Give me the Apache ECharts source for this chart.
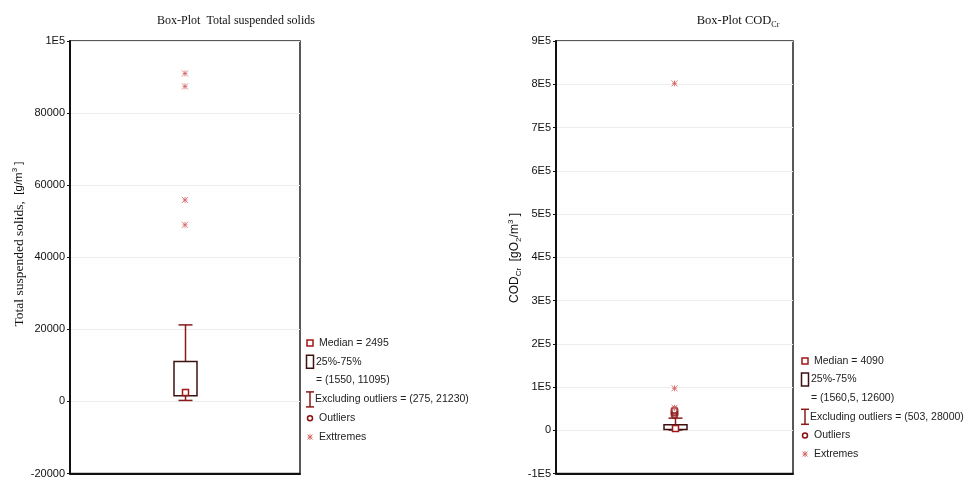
<!DOCTYPE html>
<html><head><meta charset="utf-8">
<script src="https://cdn.jsdelivr.net/npm/echarts/dist/echarts.min.js"></script>
<style>html,body{margin:0;padding:0;background:#fff}#c{width:967px;height:479px}</style>
</head><body><div id="c"></div>
<script>
// ---- data ----
const categories = ['TSS', 'COD'];
// [min (excluding outliers), q1, median, q3, max (excluding outliers)]
const tssStats = [275, 1550, 2495, 11095, 21230];
const tssOutliers = [];
const tssExtremes = [91000, 87400, 55900, 49000];
const codStats = [503, 1560.5, 4090, 12600, 28000];
const codOutliers = [36000, 41000, 46000];
const codExtremes = [52000, 97000, 802000];
const tssTicks = [-20000, 0, 20000, 40000, 60000, 80000, 100000];
const tssTickLabels = ['-20000', '0', '20000', '40000', '60000', '80000', '1E5'];
const codTicks = [-100000, 0, 100000, 200000, 300000, 400000, 500000, 600000, 700000, 800000, 900000];
const codTickLabels = ['-1E5', '0', '1E5', '2E5', '3E5', '4E5', '5E5', '6E5', '7E5', '8E5', '9E5'];
const tssLegendExtremesLabel = 'Exttremes';
const codLegendExtremesLabel = 'Extremes';

// ---- styles ----
const WHISKER = '#8b1a1a', BOX = '#3d1212', MED = '#a01818', EXT = '#d36060', OUT = '#8b1010';
const SANS = 'Liberation Sans, Arial, sans-serif';
const SERIF = 'Liberation Serif, Times New Roman, serif';
const STAR = 'path://M0,0L10,10M10,0L0,10M5,0L5,10M1,5L9,5';

function fmt(v) { return String(v).replace('.', ','); }

function boxRender(params, api) {
  const x = api.value(0);
  const pMin = api.coord([x, api.value(1)]);
  const pQ1 = api.coord([x, api.value(2)]);
  const pMed = api.coord([x, api.value(3)]);
  const pQ3 = api.coord([x, api.value(4)]);
  const pMax = api.coord([x, api.value(5)]);
  const cx = Math.round(pMed[0]) + 0.5;
  const bw = 23, cw = 14, ms = 6;
  const ls = { stroke: WHISKER, lineWidth: 1.5 };
  return {
    type: 'group',
    children: [
      { type: 'line', shape: { x1: cx, y1: pQ3[1], x2: cx, y2: pMax[1] }, style: ls },
      { type: 'line', shape: { x1: cx, y1: pQ1[1], x2: cx, y2: pMin[1] }, style: ls },
      { type: 'line', shape: { x1: cx - cw / 2, y1: pMax[1], x2: cx + cw / 2, y2: pMax[1] }, style: ls },
      { type: 'line', shape: { x1: cx - cw / 2, y1: pMin[1], x2: cx + cw / 2, y2: pMin[1] }, style: ls },
      { type: 'rect', shape: { x: cx - bw / 2, y: pQ3[1], width: bw, height: pQ1[1] - pQ3[1] },
        style: { fill: 'rgba(255,255,255,0)', stroke: BOX, lineWidth: 1.5 } },
      { type: 'rect', shape: { x: cx - ms / 2, y: pMed[1] - ms / 2, width: ms, height: ms },
        style: { fill: '#fff', stroke: MED, lineWidth: 1.5 } }
    ]
  };
}

function yAxisCfg(gi, min, max, interval, ticks, labels) {
  return {
    type: 'value', gridIndex: gi, min: min, max: max, interval: interval,
    axisLine: { show: true, lineStyle: { color: '#111', width: 2 } },
    axisTick: { show: true, length: 3, lineStyle: { color: '#111' } },
    splitLine: { show: true, lineStyle: { color: '#ececec', width: 1 } },
    axisLabel: {
      fontFamily: SANS, fontSize: 11, color: '#111', margin: 5,
      formatter: v => { const i = ticks.indexOf(v); return i >= 0 ? labels[i] : ''; }
    }
  };
}
function xAxisCfg(gi, cat) {
  return {
    type: 'category', gridIndex: gi, data: [cat], boundaryGap: true,
    axisLine: { show: true, onZero: false, lineStyle: { color: '#111', width: 2 } },
    axisTick: { show: false }, axisLabel: { show: false }, splitLine: { show: false }
  };
}

function legend(ix, iy, stats, extLabel, dy) {
  const t = (x, y, s) => ({ type: 'text', x: x, y: y,
    style: { text: s, fontFamily: SANS, fontSize: 10.5, fill: '#222', verticalAlign: 'middle', align: 'left' } });
  const ln = (x1, y1, x2, y2, c, w) => ({ type: 'line', shape: { x1: x1, y1: y1, x2: x2, y2: y2 }, style: { stroke: c, lineWidth: w } });
  const y = k => iy + k * dy;
  return [
    { type: 'rect', shape: { x: ix - 3, y: y(0) - 3, width: 6, height: 6 }, style: { fill: '#fff', stroke: MED, lineWidth: 1.5 } },
    t(ix + 9, y(0), 'Median = ' + fmt(stats[2])),
    { type: 'rect', shape: { x: ix - 3.5, y: y(1) - 6.5, width: 7, height: 13 }, style: { fill: '#fff', stroke: BOX, lineWidth: 1.5 } },
    t(ix + 6, y(1), '25%-75%'),
    t(ix + 6, y(2), '= (' + fmt(stats[1]) + ', ' + fmt(stats[3]) + ')'),
    ln(ix, y(3) - 7.5, ix, y(3) + 7.5, WHISKER, 1.5),
    ln(ix - 4, y(3) - 7.5, ix + 4, y(3) - 7.5, WHISKER, 1.5),
    ln(ix - 4, y(3) + 7.5, ix + 4, y(3) + 7.5, WHISKER, 1.5),
    t(ix + 5, y(3), 'Excluding outliers = (' + fmt(stats[0]) + ', ' + fmt(stats[4]) + ')'),
    { type: 'circle', shape: { cx: ix, cy: y(4), r: 2.5 }, style: { fill: '#fff', stroke: OUT, lineWidth: 1.5 } },
    t(ix + 9, y(4), 'Outliers'),
    ln(ix - 2.5, y(5) - 2.5, ix + 2.5, y(5) + 2.5, EXT, 0.9),
    ln(ix + 2.5, y(5) - 2.5, ix - 2.5, y(5) + 2.5, EXT, 0.9),
    ln(ix, y(5) - 3, ix, y(5) + 3, EXT, 0.9),
    ln(ix - 2.5, y(5), ix + 2.5, y(5), EXT, 0.9),
    t(ix + 9, y(5), extLabel)
  ];
}

const chart = echarts.init(document.getElementById('c'), null, { renderer: 'canvas' });
const option = {
  animation: false,
  backgroundColor: '#fff',
  grid: [
    { left: 70, right: 667, top: 41, bottom: 4, show: true, borderColor: '#222', borderWidth: 1.5 },
    { left: 556, right: 174, top: 41, bottom: 4, show: true, borderColor: '#222', borderWidth: 1.5 }
  ],
  xAxis: [xAxisCfg(0, categories[0]), xAxisCfg(1, categories[1])],
  yAxis: [
    yAxisCfg(0, tssTicks[0], tssTicks[tssTicks.length - 1], 20000, tssTicks, tssTickLabels),
    yAxisCfg(1, codTicks[0], codTicks[codTicks.length - 1], 100000, codTicks, codTickLabels)
  ],
  series: [
    { type: 'custom', xAxisIndex: 0, yAxisIndex: 0, renderItem: boxRender,
      encode: { x: 0, y: [1, 2, 3, 4, 5] }, data: [[0].concat(tssStats)], z: 3 },
    { type: 'custom', xAxisIndex: 1, yAxisIndex: 1, renderItem: boxRender,
      encode: { x: 0, y: [1, 2, 3, 4, 5] }, data: [[0].concat(codStats)], z: 3 },
    { type: 'scatter', xAxisIndex: 0, yAxisIndex: 0, symbol: 'emptyCircle', symbolSize: 6,
      itemStyle: { color: OUT, borderWidth: 1.5 }, data: tssOutliers.map(v => [0, v]), z: 4 },
    { type: 'scatter', xAxisIndex: 1, yAxisIndex: 1, symbol: 'emptyCircle', symbolSize: 6,
      itemStyle: { color: OUT, borderWidth: 1.5 }, data: codOutliers.map(v => [0, v]), z: 4 },
    { type: 'scatter', xAxisIndex: 0, yAxisIndex: 0, symbol: STAR, symbolSize: 6,
      itemStyle: { color: 'rgba(0,0,0,0)', borderColor: EXT, borderWidth: 1 }, data: tssExtremes.map(v => [0, v]), z: 5 },
    { type: 'scatter', xAxisIndex: 1, yAxisIndex: 1, symbol: STAR, symbolSize: 6,
      itemStyle: { color: 'rgba(0,0,0,0)', borderColor: EXT, borderWidth: 1 }, data: codExtremes.map(v => [0, v]), z: 5 }
  ],
  graphic: [
    { type: 'text', x: 236, y: 21, style: { text: 'Box-Plot  Total suspended solids', fontFamily: SERIF, fontSize: 12,
      fill: '#111', align: 'center', verticalAlign: 'middle' } },
    { type: 'text', x: 738, y: 21, style: {
      text: '{t|Box-Plot COD}{sub|Cr}', align: 'center', verticalAlign: 'middle', fill: '#111',
      rich: { t: { fontFamily: SERIF, fontSize: 12.5, lineHeight: 16 },
              sub: { fontFamily: SERIF, fontSize: 8, lineHeight: 9, verticalAlign: 'bottom' } } } },
    { type: 'text', x: 19, y: 244, rotation: Math.PI / 2, style: {
      text: '{se|Total suspended solids,}{sa|  [g/m}{sup|3}{sa| ]}', align: 'center', verticalAlign: 'middle', fill: '#111',
      rich: { se: { fontFamily: SERIF, fontSize: 13.5, lineHeight: 16 },
              sa: { fontFamily: SANS, fontSize: 11.5, lineHeight: 16 },
              sup: { fontFamily: SANS, fontSize: 8, lineHeight: 9, verticalAlign: 'top' } } } },
    { type: 'text', x: 515, y: 258, rotation: Math.PI / 2, style: {
      text: '{sa|COD}{sub|Cr}{sa|  [gO}{sub|2}{sa|/m}{sup|3}{sa| ]}', align: 'center', verticalAlign: 'middle', fill: '#111',
      rich: { sa: { fontFamily: SANS, fontSize: 12, lineHeight: 16 },
              sub: { fontFamily: SANS, fontSize: 8, lineHeight: 9, verticalAlign: 'bottom' },
              sup: { fontFamily: SANS, fontSize: 8, lineHeight: 9, verticalAlign: 'top' } } } }
  ].concat(legend(310, 343, tssStats, tssLegendExtremesLabel, 18.8))
   .concat(legend(805, 361, codStats, codLegendExtremesLabel, 18.6))
};
chart.setOption(option);
</script>
</body></html>
